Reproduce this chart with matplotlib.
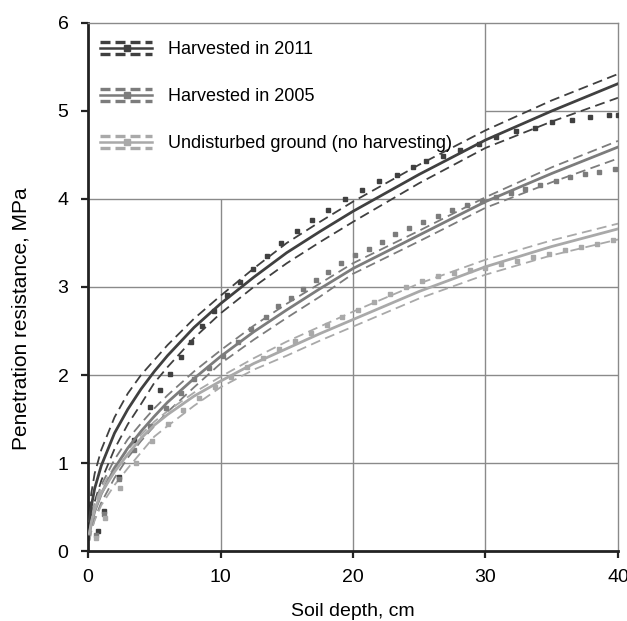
import matplotlib
matplotlib.use("Agg")
import matplotlib.pyplot as plt
from matplotlib.lines import Line2D
from matplotlib.legend_handler import HandlerBase
from matplotlib import font_manager

# fitted curves
depth = [0.1, 0.25, 0.5, 1, 2, 3, 4, 5, 6, 8, 10, 12.5, 15, 17.5, 20, 25, 30, 35, 40]

fit_2011 = [0.34, 0.51, 0.71, 0.97, 1.34, 1.61, 1.84, 2.04, 2.22, 2.54, 2.81, 3.11, 3.39, 3.63, 3.86, 4.28, 4.67, 5.00, 5.31]
up_2011 = [0.45, 0.66, 0.88, 1.15, 1.52, 1.79, 2.00, 2.17, 2.34, 2.64, 2.90, 3.21, 3.50, 3.74, 3.97, 4.39, 4.78, 5.12, 5.42]
lo_2011 = [0.22, 0.38, 0.56, 0.80, 1.16, 1.44, 1.67, 1.91, 2.09, 2.42, 2.70, 3.00, 3.27, 3.51, 3.74, 4.18, 4.58, 4.88, 5.15]

fit_2005 = [0.19, 0.31, 0.45, 0.65, 0.94, 1.17, 1.36, 1.53, 1.69, 1.96, 2.21, 2.49, 2.74, 2.98, 3.21, 3.59, 3.97, 4.29, 4.59]
up_2005 = [0.26, 0.39, 0.54, 0.75, 1.04, 1.27, 1.45, 1.62, 1.77, 2.04, 2.28, 2.56, 2.81, 3.04, 3.27, 3.64, 4.02, 4.36, 4.66]
lo_2005 = [0.12, 0.23, 0.36, 0.55, 0.83, 1.06, 1.25, 1.42, 1.58, 1.86, 2.13, 2.40, 2.65, 2.89, 3.15, 3.52, 3.90, 4.19, 4.46]

fit_und = [0.20, 0.33, 0.47, 0.66, 0.90, 1.10, 1.28, 1.43, 1.55, 1.76, 1.93, 2.13, 2.30, 2.47, 2.63, 2.95, 3.23, 3.46, 3.66]
up_und = [0.25, 0.39, 0.53, 0.72, 0.96, 1.15, 1.32, 1.47, 1.59, 1.80, 1.98, 2.19, 2.38, 2.55, 2.72, 3.04, 3.31, 3.53, 3.72]
lo_und = [0.12, 0.23, 0.35, 0.52, 0.75, 0.94, 1.12, 1.30, 1.42, 1.65, 1.86, 2.06, 2.22, 2.39, 2.55, 2.87, 3.14, 3.36, 3.54]

# measured points
obs_x_2011 = [0.78, 1.23, 2.3, 3.47, 4.7, 5.43, 6.19, 7.0, 7.8, 8.6, 9.5, 10.47, 11.47, 12.48, 13.53, 14.6,
              15.75, 16.93, 18.1, 19.4, 20.65, 22.0, 23.35, 24.5, 25.5, 26.8, 28.1, 29.5, 30.8, 32.3, 33.7,
              35.0, 36.5, 37.9, 39.3, 40.0]
obs_y_2011 = [0.23, 0.45, 0.84, 1.26, 1.64, 1.83, 2.01, 2.21, 2.38, 2.56, 2.73, 2.91, 3.06, 3.21, 3.35, 3.50,
              3.64, 3.76, 3.88, 4.00, 4.10, 4.20, 4.27, 4.36, 4.43, 4.49, 4.56, 4.63, 4.70, 4.77, 4.81,
              4.87, 4.90, 4.93, 4.95, 4.95]

obs_x_2005 = [0.6, 1.2, 2.3, 3.5, 4.7, 5.9, 7.0, 8.0, 9.1, 10.2, 11.3, 12.3, 13.4, 14.37, 15.3, 16.25, 17.2,
              18.1, 19.1, 20.15, 21.2, 22.2, 23.2, 24.25, 25.3, 26.4, 27.45, 28.6, 29.7, 30.8, 31.9, 33.0,
              34.1, 35.3, 36.4, 37.5, 38.6, 39.8]
obs_y_2005 = [0.18, 0.42, 0.82, 1.15, 1.42, 1.63, 1.80, 1.95, 2.08, 2.22, 2.38, 2.52, 2.66, 2.78, 2.88, 2.98, 3.08,
              3.17, 3.27, 3.36, 3.43, 3.51, 3.60, 3.67, 3.74, 3.81, 3.87, 3.93, 3.98, 4.02, 4.07, 4.11,
              4.16, 4.21, 4.25, 4.28, 4.31, 4.34]

obs_x_und = [0.6, 1.3, 2.4, 3.6, 4.8, 6.0, 7.2, 8.4, 9.6, 10.8, 12.0, 13.2, 14.4, 15.6, 16.8, 18.0, 19.2,
             20.4, 21.6, 22.8, 24.0, 25.2, 26.4, 27.6, 28.8, 30.0, 31.2, 32.4, 33.6, 34.8, 36.0, 37.2,
             38.4, 39.6]
obs_y_und = [0.15, 0.38, 0.72, 1.00, 1.25, 1.44, 1.60, 1.74, 1.86, 1.98, 2.09, 2.19, 2.29, 2.39, 2.48, 2.57, 2.66,
             2.74, 2.83, 2.92, 3.00, 3.07, 3.12, 3.16, 3.19, 3.22, 3.26, 3.30, 3.34, 3.38, 3.42, 3.46,
             3.49, 3.53]

labels = ["Harvested in 2011", "Harvested in 2005", "Undisturbed ground (no harvesting)"]
colors = ["#404040", "#7c7c7c", "#a9a9a9"]

names = [f.name for f in font_manager.fontManager.ttflist]
if "Liberation Sans Narrow" in names:
    plt.rcParams["font.family"] = ["Liberation Sans Narrow", "DejaVu Sans"]
else:
    plt.rcParams["font.family"] = ["Liberation Sans", "DejaVu Sans"]

DASH = (5.5, 3.0)


class BandHandler(HandlerBase):
    def create_artists(self, legend, orig, xd, yd, width, height, fontsize, trans):
        c = orig.get_color()
        ym = height / 2 - yd
        gap = height * 0.5
        top = Line2D([-xd, width - xd], [ym + gap, ym + gap], color=c, lw=2.4, dashes=(3.0, 1.5))
        mid = Line2D([-xd, width - xd], [ym, ym], color=c, lw=1.8)
        mk = Line2D([-xd + width * 0.52], [ym], color=c, marker="s", ms=4, ls="none")
        bot = Line2D([-xd, width - xd], [ym - gap, ym - gap], color=c, lw=2.4, dashes=(3.0, 1.5))
        arts = [top, mid, mk, bot]
        for a in arts:
            a.set_transform(trans)
        return arts


fig = plt.figure(figsize=(6.27, 6.21), dpi=100)
ax = fig.add_axes([0.1404, 0.1127, 0.8452, 0.8503])

# grid (upper-left part is left blank behind the legend)
for y in [1, 2, 3, 4]:
    ax.hlines(y, 0, 40, color="#8a8a8a", lw=1.0, zorder=0)
ax.hlines(5, 30, 40, color="#8a8a8a", lw=1.0, zorder=0)
for x in [10, 20]:
    ax.vlines(x, 0, 4, color="#8a8a8a", lw=1.0, zorder=0)
ax.vlines(30, 0, 6, color="#8a8a8a", lw=1.0, zorder=0)

groups = [
    (fit_2011, up_2011, lo_2011, obs_x_2011, obs_y_2011),
    (fit_2005, up_2005, lo_2005, obs_x_2005, obs_y_2005),
    (fit_und, up_und, lo_und, obs_x_und, obs_y_und),
]
handles = []
for (fit, up, lo, ox, oy), c, lab in zip(groups, colors, labels):
    ax.plot(depth, up, color=c, lw=1.3, dashes=DASH, zorder=2)
    ax.plot(depth, lo, color=c, lw=1.3, dashes=DASH, zorder=2)
    ax.plot(ox, oy, ls="none", marker="s", ms=2.2, color=c, zorder=3)
    h, = ax.plot(depth, fit, color=c, lw=2.0, zorder=4, label=lab)
    handles.append(h)

ax.set_xlim(0, 40)
ax.set_ylim(0, 6)
ax.set_xticks([0, 10, 20, 30, 40])
ax.set_yticks([0, 1, 2, 3, 4, 5, 6])
ax.tick_params(direction="out", length=5, width=1.6, labelsize=14, color="#222222")
ax.tick_params(axis="y", pad=9)
ax.tick_params(axis="x", pad=8)

for s in ["left", "bottom"]:
    ax.spines[s].set_linewidth(2.0)
    ax.spines[s].set_color("#222222")
for s in ["top", "right"]:
    ax.spines[s].set_linewidth(1.0)
    ax.spines[s].set_color("#8a8a8a")

ax.set_xlabel("Soil depth, cm", fontsize=14)
ax.set_ylabel("Penetration resistance, MPa", fontsize=15)
ax.xaxis.set_label_coords(0.5, -0.098)
ax.yaxis.set_label_coords(-0.108, 0.44)

ax.legend(handles=handles, labels=labels, handler_map={Line2D: BandHandler()},
          loc="upper left", bbox_to_anchor=(0.0, 0.988), frameon=False, fontsize=13,
          handlelength=2.9, handletextpad=0.85, labelspacing=1.66, borderaxespad=0.3,
          borderpad=0.37)

fig.savefig("out.png", dpi=100)
